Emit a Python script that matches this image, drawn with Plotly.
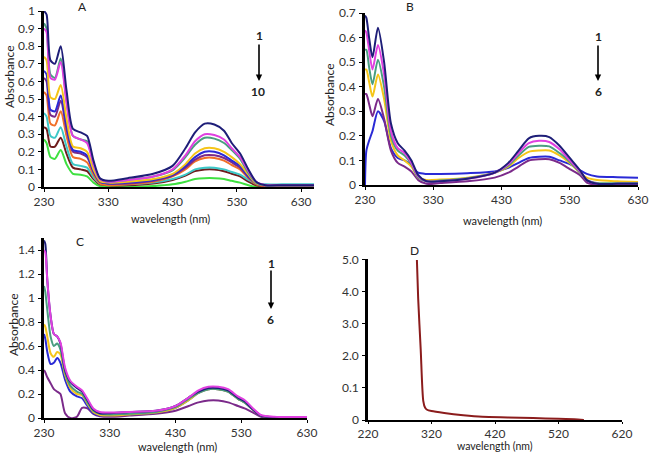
import plotly.graph_objects as go

W = 650
H = 453

# ---------------- Panel A ----------------
wl_a = [230, 234, 240, 247, 256, 265, 275, 287, 297, 307, 317, 330, 360, 400, 430,
        450, 465, 480, 495, 510, 522, 535, 548, 560, 575, 600, 650]
a_navy = [1.00, 0.98, 0.72, 0.70, 0.80, 0.55, 0.33, 0.31, 0.29, 0.15, 0.05, 0.035, 0.05, 0.075, 0.12,
          0.22, 0.31, 0.36, 0.355, 0.32, 0.25, 0.19, 0.10, 0.03, 0.01, 0.01, 0.01]
a_magenta = [0.90, 0.88, 0.62, 0.61, 0.71, 0.48, 0.29, 0.27, 0.25, 0.13, 0.045, 0.03, 0.04, 0.06, 0.10,
             0.18, 0.26, 0.30, 0.295, 0.27, 0.22, 0.17, 0.09, 0.03, 0.012, 0.01, 0.01]
a_teal = [0.93, 0.90, 0.64, 0.62, 0.73, 0.49, 0.29, 0.27, 0.26, 0.13, 0.045, 0.03, 0.04, 0.06, 0.095,
          0.17, 0.24, 0.28, 0.275, 0.25, 0.21, 0.16, 0.08, 0.025, 0.01, 0.01, 0.01]
a_gold = [0.74, 0.72, 0.51, 0.50, 0.58, 0.39, 0.23, 0.22, 0.20, 0.10, 0.035, 0.025, 0.03, 0.045, 0.075,
          0.13, 0.19, 0.22, 0.22, 0.20, 0.17, 0.13, 0.07, 0.02, 0.01, 0.008, 0.008]
a_purple = [0.62, 0.60, 0.41, 0.40, 0.49, 0.33, 0.20, 0.19, 0.17, 0.085, 0.03, 0.02, 0.02, 0.035, 0.065,
            0.11, 0.155, 0.18, 0.18, 0.165, 0.14, 0.11, 0.055, 0.02, 0.008, 0.005, 0.005]
a_blue = [0.66, 0.64, 0.44, 0.43, 0.52, 0.35, 0.21, 0.20, 0.18, 0.09, 0.03, 0.02, 0.025, 0.04, 0.07,
          0.12, 0.17, 0.20, 0.20, 0.18, 0.15, 0.12, 0.06, 0.02, 0.01, 0.008, 0.008]
a_orange = [0.54, 0.52, 0.36, 0.35, 0.43, 0.29, 0.17, 0.16, 0.14, 0.07, 0.02, 0.01, 0.015, 0.03, 0.06,
            0.10, 0.145, 0.165, 0.165, 0.15, 0.125, 0.10, 0.05, 0.015, 0.005, 0.005, 0.005]
a_cyan = [0.42, 0.40, 0.29, 0.28, 0.34, 0.23, 0.13, 0.12, 0.11, 0.055, 0.02, 0.015, 0.015, 0.025, 0.045,
          0.07, 0.10, 0.11, 0.11, 0.10, 0.085, 0.07, 0.04, 0.02, 0.015, 0.015, 0.015]
a_maroon = [0.34, 0.33, 0.23, 0.23, 0.28, 0.19, 0.11, 0.10, 0.09, 0.045, 0.015, 0.01, 0.01, 0.02, 0.04,
            0.065, 0.09, 0.10, 0.10, 0.09, 0.075, 0.06, 0.03, 0.01, 0.005, 0.005, 0.005]
a_green = [0.27, 0.25, 0.17, 0.16, 0.21, 0.13, 0.075, 0.07, 0.06, 0.025, 0.005, 0.0, 0.0, 0.005, 0.015,
           0.03, 0.045, 0.05, 0.05, 0.045, 0.035, 0.025, 0.01, 0.0, 0.0, 0.0, 0.0]

# ---------------- Panel B ----------------
wl_b = [230, 232, 236, 241, 249, 258, 268, 278, 288, 298, 308, 320, 340, 380, 420,
        440, 455, 470, 485, 500, 515, 530, 545, 555, 570, 600, 630]
b_navy = [0.69, 0.68, 0.60, 0.52, 0.64, 0.50, 0.25, 0.17, 0.14, 0.10, 0.04, 0.015, 0.015, 0.025, 0.05,
          0.09, 0.14, 0.19, 0.20, 0.195, 0.16, 0.11, 0.06, 0.02, 0.005, 0.005, 0.005]
b_magenta = [0.63, 0.62, 0.55, 0.47, 0.57, 0.45, 0.22, 0.15, 0.13, 0.09, 0.035, 0.015, 0.015, 0.025, 0.05,
             0.085, 0.13, 0.17, 0.18, 0.175, 0.145, 0.10, 0.055, 0.02, 0.005, 0.005, 0.005]
b_teal = [0.55, 0.55, 0.48, 0.41, 0.51, 0.40, 0.20, 0.14, 0.12, 0.085, 0.03, 0.015, 0.018, 0.028, 0.05,
          0.08, 0.12, 0.155, 0.16, 0.157, 0.13, 0.095, 0.05, 0.02, 0.008, 0.008, 0.008]
b_gold = [0.47, 0.47, 0.42, 0.36, 0.45, 0.35, 0.18, 0.12, 0.10, 0.075, 0.03, 0.02, 0.022, 0.03, 0.05,
          0.075, 0.11, 0.135, 0.14, 0.14, 0.12, 0.09, 0.05, 0.03, 0.02, 0.015, 0.012]
b_purple = [0.37, 0.37, 0.33, 0.28, 0.35, 0.27, 0.14, 0.09, 0.075, 0.055, 0.02, 0.005, 0.008, 0.015, 0.03,
            0.05, 0.075, 0.10, 0.105, 0.105, 0.09, 0.065, 0.04, 0.01, 0.0, 0.0, 0.0]
b_blue = [0.0, 0.14, 0.18, 0.22, 0.30, 0.26, 0.15, 0.11, 0.10, 0.08, 0.05, 0.045, 0.045, 0.048, 0.055,
          0.07, 0.09, 0.11, 0.115, 0.115, 0.10, 0.085, 0.06, 0.045, 0.035, 0.032, 0.03]

# ---------------- Panel C ----------------
wl_c = [230, 232, 235, 240, 245, 250, 255, 262, 270, 280, 288, 296, 305, 315, 330, 360, 400,
        430, 450, 465, 480, 495, 510, 525, 535, 548, 560, 580, 630]
c_navy = [1.48, 1.45, 1.15, 0.85, 0.70, 0.68, 0.62, 0.40, 0.30, 0.25, 0.22, 0.15, 0.07, 0.04, 0.04, 0.05, 0.06,
          0.10, 0.17, 0.22, 0.25, 0.25, 0.23, 0.17, 0.14, 0.07, 0.02, 0.005, 0.005]
c_magenta = [1.40, 1.38, 1.15, 0.85, 0.70, 0.68, 0.63, 0.42, 0.31, 0.26, 0.23, 0.16, 0.08, 0.05, 0.045, 0.05, 0.06,
             0.10, 0.17, 0.23, 0.26, 0.26, 0.24, 0.18, 0.15, 0.08, 0.025, 0.01, 0.008]
c_teal = [1.10, 1.05, 0.90, 0.68, 0.60, 0.62, 0.57, 0.38, 0.27, 0.22, 0.20, 0.13, 0.06, 0.035, 0.03, 0.035, 0.05,
          0.09, 0.16, 0.21, 0.24, 0.24, 0.22, 0.16, 0.13, 0.07, 0.02, 0.005, 0.005]
c_gold = [0.78, 0.76, 0.68, 0.54, 0.51, 0.55, 0.53, 0.36, 0.25, 0.20, 0.19, 0.12, 0.05, 0.025, 0.02, 0.03, 0.045,
          0.085, 0.15, 0.21, 0.24, 0.24, 0.22, 0.16, 0.13, 0.07, 0.02, 0.005, 0.005]
c_blue = [0.70, 0.66, 0.55, 0.45, 0.46, 0.50, 0.46, 0.32, 0.22, 0.18, 0.165, 0.10, 0.04, 0.02, 0.02, 0.03, 0.045,
          0.085, 0.15, 0.21, 0.24, 0.24, 0.22, 0.16, 0.13, 0.07, 0.02, 0.005, 0.005]
c_purple = [0.40, 0.38, 0.34, 0.29, 0.24, 0.22, 0.20, 0.04, 0.0, 0.01, 0.085, 0.08, 0.035, 0.015, 0.01, 0.02, 0.035,
            0.06, 0.10, 0.13, 0.145, 0.145, 0.13, 0.10, 0.08, 0.045, 0.01, 0.0, 0.0]

# ---------------- Panel D ----------------
wl_d = [297, 299, 303, 307, 310, 313, 320, 340, 370, 400, 440, 480, 520, 545, 560]
d_abs = [5.0, 3.8, 2.2, 0.6, 0.38, 0.32, 0.28, 0.22, 0.15, 0.10, 0.08, 0.06, 0.04, 0.02, 0.0]
d_tickvals = [0, 1, 2, 3, 4, 5]
d_ticktext = ["0", "0.1", "2.0", "3.0", "4.0", "5.0"]

C_NAVY = "#1e1e78"
C_MAG = "#e040e0"
C_TEAL = "#4a9e80"
C_GOLD = "#f5c518"
C_BLUE = "#2a2ad6"
C_PURP = "#7b2a8a"
C_ORNG = "#f07028"
C_CYAN = "#3cc8c8"
C_MARN = "#6e1c1c"
C_GRN = "#3ee040"
C_D = "#8b1c1c"

panels = [
    ("x", "y", wl_a, [(a_green, C_GRN), (a_maroon, C_MARN), (a_cyan, C_CYAN), (a_orange, C_ORNG),
                      (a_purple, C_PURP), (a_blue, C_BLUE), (a_gold, C_GOLD), (a_teal, C_TEAL),
                      (a_magenta, C_MAG), (a_navy, C_NAVY)]),
    ("x2", "y2", wl_b, [(b_blue, C_BLUE), (b_purple, C_PURP), (b_gold, C_GOLD), (b_teal, C_TEAL),
                        (b_magenta, C_MAG), (b_navy, C_NAVY)]),
    ("x3", "y3", wl_c, [(c_purple, C_PURP), (c_blue, C_BLUE), (c_gold, C_GOLD), (c_teal, C_TEAL),
                        (c_navy, C_NAVY), (c_magenta, C_MAG)]),
    ("x4", "y4", wl_d, [(d_abs, C_D)]),
]

fig = go.Figure()
for xa, ya, wl, series in panels:
    for vals, col in series:
        fig.add_trace(go.Scatter(x=wl, y=vals, mode="lines", xaxis=xa, yaxis=ya,
                                 line=dict(color=col, width=2, shape="spline", smoothing=0.7),
                                 showlegend=False, hoverinfo="skip"))

FONT = "Lato, 'Open Sans', sans-serif"


def px_x(p):
    return p / W


def px_y(p):
    return 1 - p / H


def xax(dom, rng, tv, anchor, ticklen=3):
    return dict(domain=dom, range=rng, tickvals=tv, showline=True, linecolor="black", linewidth=2,
                ticks="outside", ticklen=ticklen, tickcolor="black", showgrid=False, zeroline=False,
                automargin=False, ticklabelstandoff=0,
                tickfont=dict(size=12, color="#333", family=FONT), anchor=anchor, fixedrange=True)


def yax(dom, rng, anchor, **kw):
    d = dict(domain=dom, range=rng, showline=True, linecolor="black", linewidth=2.5,
             ticks="outside", ticklen=3, tickcolor="black", showgrid=False, zeroline=False,
             automargin=False, ticklabelstandoff=1,
             tickfont=dict(size=12, color="#333", family=FONT), anchor=anchor, fixedrange=True)
    d.update(kw)
    return d


fig.update_layout(
    width=W, height=H, margin=dict(l=0, r=0, t=0, b=0, autoexpand=False),
    paper_bgcolor="white", plot_bgcolor="white",
    font=dict(family=FONT, color="#333"),
    xaxis=xax([px_x(44), px_x(314)], [230, 650], [230, 330, 430, 530, 630], "y"),
    yaxis=yax([px_y(187), px_y(11)], [0, 1.0], "x", dtick=0.1),
    xaxis2=xax([px_x(365), px_x(638)], [230, 630], [230, 330, 430, 530, 630], "y2"),
    yaxis2=yax([px_y(185), px_y(13)], [0, 0.7], "x2", dtick=0.1),
    xaxis3=xax([px_x(44), px_x(307)], [230, 630], [230, 330, 430, 530, 630], "y3"),
    yaxis3=yax([px_y(418), px_y(238)], [0, 1.5], "x3", tickvals=[0, 0.2, 0.4, 0.6, 0.8, 1, 1.2, 1.4]),
    xaxis4=xax([px_x(368), px_x(622)], [220, 620], [220, 320, 420, 520, 620], "y4", ticklen=2),
    yaxis4=yax([px_y(420), px_y(259)], [0, 5.03], "x4", tickvals=d_tickvals, ticktext=d_ticktext),
)

ann = []


def text(x, y, s, size=12, bold=False, angle=0):
    ann.append(dict(x=px_x(x), y=px_y(y), xref="paper", yref="paper", text=("<b>%s</b>" % s) if bold else s,
                    showarrow=False, textangle=angle, font=dict(size=size, color="#222", family=FONT),
                    xanchor="center", yanchor="middle"))


# panel letters
text(82, 7, "A")
text(410, 7, "B")
text(80, 242, "C")
text(414, 250, "D")
# axis titles
text(10, 77, "Absorbance", angle=-90)
text(330, 95, "Absorbance", angle=-90)
text(13, 325, "Absorbance", angle=-90)
text(170, 218, "wavelength (nm)", size=11)
text(502, 220, "wavelength (nm)", size=11)
text(177, 446, "wavelength (nm)", size=11)
text(495, 445.5, "wavelength (nm)", size=10.5)
# arrow labels
text(259, 36, "1", bold=True)
text(258, 91, "10", bold=True)
text(598, 37, "1", bold=True)
text(598, 91, "6", bold=True)
text(271, 263, "1", bold=True)
text(270, 319, "6", bold=True)

for (x, y0, y1) in [(259, 43, 81), (598, 44, 81), (271, 269, 309)]:
    ann.append(dict(x=px_x(x), y=px_y(y1), xref="paper", yref="paper", ax=0, ay=-(y1 - y0),
                    axref="pixel", ayref="pixel", text="", showarrow=True, arrowhead=2,
                    arrowsize=0.8, arrowwidth=1.6, arrowcolor="black"))

fig.update_layout(annotations=ann)

fig.write_html("out.html", config={"displayModeBar": False},
               post_script="document.body.style.margin='0';document.body.style.overflow='hidden';")
